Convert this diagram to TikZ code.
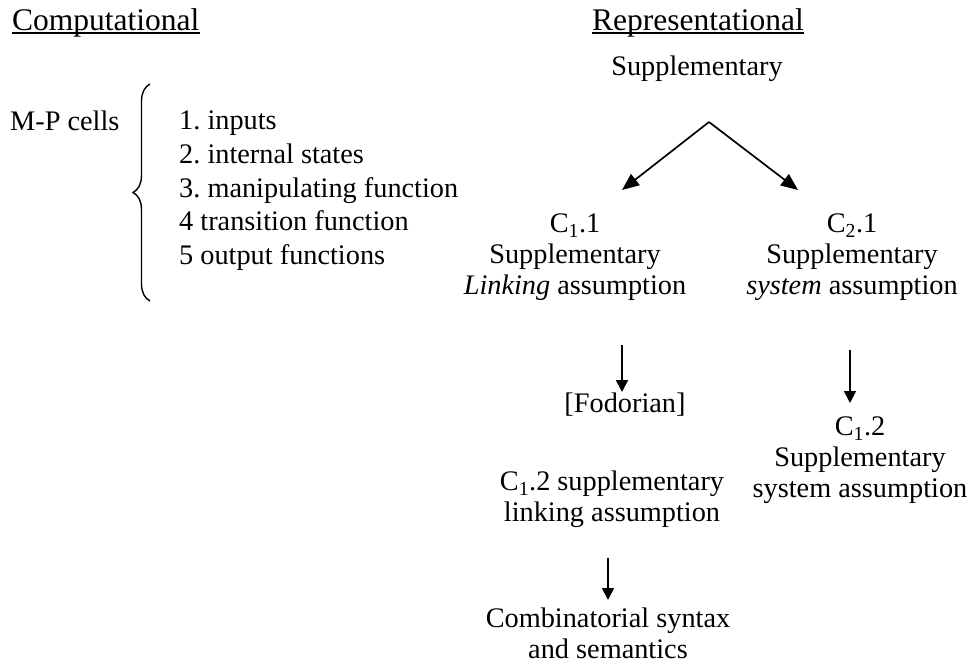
\documentclass[tikz,border=0pt]{standalone}
\usepackage{fontspec}
\setmainfont{Liberation Serif}
\usetikzlibrary{arrows.meta,decorations.pathreplacing}
\frenchspacing

\begin{document}
\begin{tikzpicture}[x=1pt,y=-1pt,
  txt/.style={font=\fontsize{28.3}{31}\selectfont, inner sep=0pt, align=center},
  listtxt/.style={font=\fontsize{28.3}{33.75}\selectfont, inner sep=0pt, align=left},
  body/.style={font=\fontsize{28.3}{31}\selectfont, inner sep=0pt},
  head/.style={font=\fontsize{31.5}{34}\selectfont, inner sep=0pt},
  uline/.style={line width=1.4pt},
  bigarrow/.style={line width=1.7pt, -{Triangle[length=17pt,width=14pt]}},
  downarrow/.style={line width=1.7pt, -{Triangle[length=12pt,width=12pt]}},
  curly/.style={line width=1.4pt, decorate, decoration={brace, amplitude=17pt}}
]
\useasboundingbox (0,0) rectangle (975,670);

% column headings
\node[head, anchor=base west] (comp) at (12,30) {Computational};
\node[head, anchor=base west] (rep) at (592,30) {Representational};
\draw[uline] ([yshift=-3pt]comp.base west) -- ([yshift=-3pt]comp.base east);
\draw[uline] ([yshift=-3pt]rep.base west) -- ([yshift=-3pt]rep.base east);

% computational side
\node[body, anchor=base west] (mp) at (10,130) {M-P cells};
\coordinate (bb) at (150,301);
\coordinate (bt) at (150,84);
\draw[curly] (bb) -- (bt);
\node[listtxt, anchor=north west] (list) at (179,110.7) {1. inputs\\
2. internal states\\
3. manipulating function\\
4 transition function\\
5 output functions};

% representational side
\node[body, anchor=base] (sup) at (697,75) {Supplementary};
\coordinate (apex) at (709,122);
\coordinate (tipL) at (622,190);
\coordinate (tipR) at (798,190);
\draw[bigarrow] (apex) -- (tipL);
\draw[bigarrow] (apex) -- (tipR);

\node[txt, anchor=north] (c11) at (575,213.7) {C\textsubscript{1}.1\\
Supplementary\\
\textit{Linking} assumption};
\node[txt, anchor=north] (c21) at (852,213.7) {C\textsubscript{2}.1\\
Supplementary\\
\textit{system} assumption};

\coordinate (d1s) at (622,345);
\coordinate (d1e) at (622,392);
\draw[downarrow] (d1s) -- (d1e);
\node[body, anchor=base] (fod) at (625,412) {[Fodorian]};

\coordinate (d2s) at (850,350);
\coordinate (d2e) at (850,403);
\draw[downarrow] (d2s) -- (d2e);
\node[txt, anchor=north] (c12r) at (860,416.7) {C\textsubscript{1}.2\\
Supplementary\\
system assumption};

\node[txt, anchor=north] (c12l) at (612,470.7) {C\textsubscript{1}.2 supplementary\\
linking assumption};

\coordinate (d3s) at (608,558);
\coordinate (d3e) at (608,600);
\draw[downarrow] (d3s) -- (d3e);
\node[txt, anchor=north] (comb) at (608,607.7) {Combinatorial syntax\\
and semantics};
\end{tikzpicture}
\end{document}
